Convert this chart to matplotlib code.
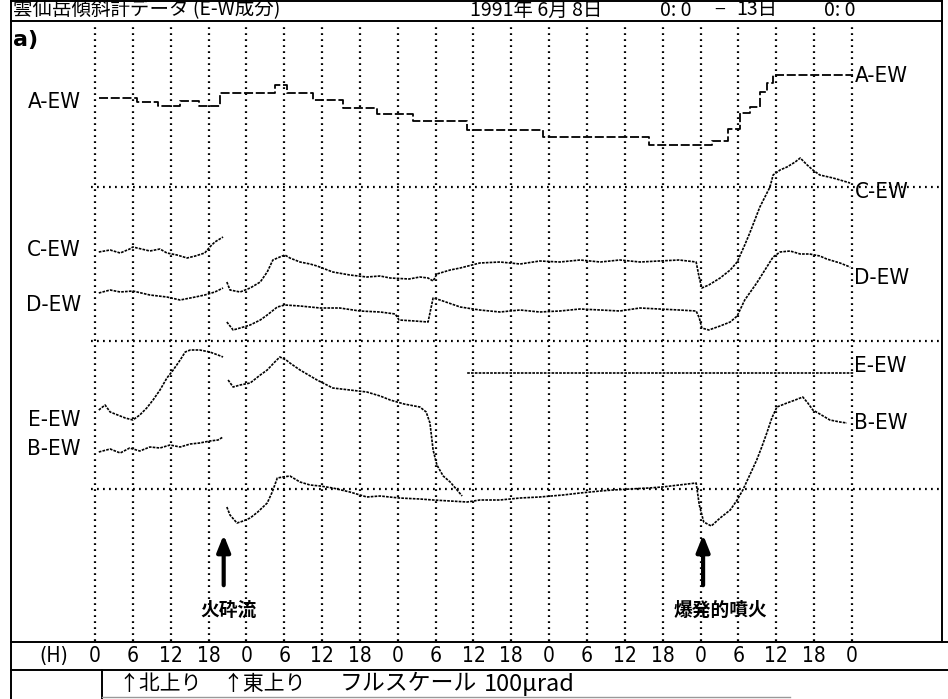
import numpy as np
import matplotlib
matplotlib.use("Agg")
import matplotlib.pyplot as plt
from matplotlib.lines import Line2D

nan = np.nan

# ---- data: hours since 1991-06-08 00:00, tilt in plot units (arbitrary offsets per trace) ----
a_h = [0.6, 6.6, 10.0, 13.5, 16.5, 19.8, 28.5, 30.5, 34.6, 39.3, 44.7, 50.4, 59.0, 71.0,
       87.8, 97.8, 100.4, 102.3, 103.8, 105.4, 106.5, 107.5, 120.2]
a_v = [543, 539, 535, 540, 535, 548, 556, 548, 541, 533, 527, 520, 511, 504,
       496, 500, 512, 528, 534, 549, 558, 566, 566]

c_h = [0.6, 2.4, 4.0, 5.5, 6.0, 8.7, 10.3, 11.4, 13.0, 14.6, 15.9, 17.4, 18.2, 19.0, 20.3, nan,
       20.9, 21.4, 23.0, 24.6, 26.2, 27.3, 28.2, 29.3, 30.1, 30.9, 32.5, 34.1, 35.2, 37.7, 40.4,
       43.1, 45.2, 46.8, 49.8, 51.5, 52.8, 53.6, 54.2, 56.3, 57.9, 61.0, 64.2, 67.4, 70.5, 73.7,
       76.9, 80.1, 83.2, 86.4, 89.4, 92.6, 95.3, 95.8, 96.2, 97.3, 99.1, 100.7, 101.8, 103.0,
       103.8, 104.6, 105.4, 106.2, 107.0, 107.5, 108.6, 109.7, 111.0, 111.8, 112.9, 113.8,
       114.9, 117.0, 118.1, 119.7]
c_v = [389, 391, 388, 392, 394, 390, 392, 388, 386, 383, 385, 388, 394, 399, 404, nan,
       359, 351, 349, 353, 359, 369, 381, 384, 386, 383, 379, 377, 375, 369, 366,
       364, 365, 363, 362, 364, 363, 360, 367, 371, 373, 378, 379, 377, 380, 379,
       381, 379, 381, 379, 380, 381, 379, 363, 353, 356, 363, 371, 379, 396,
       408, 421, 434, 444, 454, 466, 471, 474, 479, 483, 476, 471,
       466, 463, 461, 458]

d_h = [0.6, 2.4, 4.0, 6.0, 8.7, 11.4, 13.5, 15.9, 17.4, 19.0, 20.3, nan,
       20.9, 21.9, 23.0, 24.6, 26.2, 27.3, 28.9, 30.1, 32.5, 35.7, 38.8, 42.0, 45.2, 47.6,
       48.2, 50.7, 52.8, 53.6, 54.7, 57.9, 61.0, 64.2, 67.4, 70.5, 73.7, 76.9, 80.1, 83.2,
       86.4, 89.4, 92.6, 95.3, 95.8, 96.2, 97.3, 99.1, 100.7, 101.8, 103.0, 104.9, 106.2,
       107.5, 108.6, 110.2, 111.8, 113.3, 114.9, 116.0, 118.1, 119.7]
d_v = [348, 351, 349, 350, 346, 344, 341, 344, 346, 349, 353, nan,
       319, 311, 313, 316, 321, 326, 334, 336, 335, 333, 333, 330, 329, 327,
       321, 320, 319, 343, 341, 334, 331, 329, 331, 329, 330, 332, 331, 330,
       333, 332, 331, 330, 323, 313, 311, 315, 319, 325, 341, 358, 371,
       384, 389, 390, 387, 387, 385, 382, 378, 374]

e_h = [0.6, 1.6, 2.4, 3.6, 4.8, 6.0, 7.1, 8.2, 9.2, 10.3, 11.4, 12.4, 13.5, 14.3, 15.1,
       16.6, 18.2, 19.5, 20.3, nan,
       21.1, 21.9, 23.0, 24.6, 26.2, 27.3, 28.5, 29.3, 30.3, 30.9, 32.5, 35.2, 37.7, 40.4,
       43.1, 45.2, 46.8, 49.0, 51.5, 52.5, 53.1, 53.6, 54.2, 55.2, 56.3, 57.4, 58.2, nan,
       59.0, 120.2]
e_v = [231, 236, 229, 226, 223, 221, 226, 233, 241, 251, 263, 271, 281, 289, 291,
       291, 289, 286, 284, nan,
       261, 254, 256, 258, 266, 271, 279, 284, 281, 278, 271, 261, 253, 251,
       249, 245, 241, 237, 234, 229, 218, 191, 176, 165, 159, 151, 145, nan,
       268, 268]

b_h = [0.6, 2.4, 4.0, 5.5, 7.1, 8.7, 10.3, 11.9, 13.5, 15.1, 16.6, 18.2, 19.5, 20.3, nan,
       20.9, 21.4, 22.5, 23.5, 24.6, 25.8, 27.3, 28.1, 28.9, 29.8, 30.9, 32.5, 34.1, 35.7,
       37.7, 40.4, 43.1, 45.2, 48.2, 51.5, 53.6, 56.3, 59.0, 61.0, 64.2, 67.4, 70.5, 74.2,
       76.9, 80.1, 82.1, 84.8, 87.8, 89.9, 92.6, 95.3, 95.8, 96.5, 97.7, 99.1, 100.7, 101.8,
       102.7, 103.8, 104.9, 105.7, 106.5, 107.3, 108.1, 109.7, 111.0, 112.2, 113.0, 113.8,
       114.9, 116.5, 118.1, 119.2]
b_v = [189, 192, 188, 193, 190, 194, 193, 196, 194, 197, 198, 200, 201, 204, nan,
       134, 126, 118, 120, 123, 129, 138, 149, 163, 164, 165, 159, 156, 155,
       153, 149, 144, 145, 143, 142, 141, 140, 139, 141, 141, 143, 144, 146,
       148, 150, 151, 152, 153, 154, 156, 158, 136, 119, 115, 123, 131, 141,
       151, 166, 181, 194, 208, 223, 234, 238, 241, 244, 238, 231,
       227, 221, 219, 218]

left_names = ["A-EW", "C-EW", "D-EW", "E-EW", "B-EW"]
left_v = [539, 391, 336, 221, 192]
right_names = ["A-EW", "C-EW", "D-EW", "E-EW", "B-EW"]
right_v = [565, 449, 363, 275, 218]

tick_hours = list(range(0, 121, 6))
tick_labels = ["0", "6", "12", "18"] * 5 + ["0"]
event_hours = [20.4, 96.4]
event_labels = ["火砕流", "爆発的噴火"]
event_label_h = [21.2, 99.1]
band_v = [454, 300, 152]

W, H = 948, 699
PXH, X0, Y0 = 6.308, 95, 641   # px per hour, px of hour 0, px of plot bottom

JP = ["Noto Sans CJK JP", "DejaVu Sans"]
NARROW = ["DejaVu Sans Condensed", "Liberation Sans Narrow", "DejaVu Sans"]

fig = plt.figure(figsize=(W / 100, H / 100), dpi=100)
ax = fig.add_axes([0, 0, 1, 1])
ax.set_xlim(-X0 / PXH, (W - X0) / PXH)
ax.set_ylim(-(H - Y0), Y0)
ax.axis("off")

# dotted grid
for h in tick_hours:
    ax.plot([h, h], [0, 618], color="black", lw=1.6, ls=(0, (0.8, 1.9)))
for v in band_v:
    ax.plot([-0.6, (942 - X0) / PXH], [v, v], color="black", lw=1.6, ls=(0, (0.8, 1.9)))

# traces (dot-matrix look)
ax.step(a_h, a_v, where="post", color="black", lw=1.3, ls=(0, (5, 1.5)))
for hs, vs in [(c_h, c_v), (d_h, d_v), (e_h, e_v), (b_h, b_v)]:
    ax.plot(hs, vs, color="black", lw=1.2, ls=(0, (1.6, 0.7)))

# trace names
for n, v in zip(left_names, left_v):
    ax.text(-6.5, v, n, ha="center", va="center", fontsize=16, family=NARROW,
            fontstretch="condensed")
for n, v in zip(right_names, right_v):
    ax.text(120.4, v, n, ha="left", va="center", fontsize=16, family=NARROW,
            fontstretch="condensed")

# events
for h, lh, lab in zip(event_hours, event_label_h, event_labels):
    ax.annotate("", xy=(h, 109), xytext=(h, 53),
                arrowprops=dict(arrowstyle="-|>,head_width=0.4,head_length=1.0",
                                lw=3, color="black"))
    ax.text(lh, 31, lab, ha="center", va="center", fontsize=13.5,
            fontweight="bold", family=JP)

# hour axis row
ax.text(-6.5, -15, "(H)", ha="center", va="center", fontsize=15, family=NARROW,
        fontstretch="condensed")
for h, t in zip(tick_hours, tick_labels):
    ax.text(h, -15, t, ha="center", va="center", fontsize=15, family=NARROW,
            fontstretch="condensed")


def fx(px):
    return px / W


def fy(py):
    return 1 - py / H


def fline(x0, y0, x1, y1, **kw):
    kw.setdefault("color", "black")
    kw.setdefault("lw", 1.4)
    fig.add_artist(Line2D([fx(x0), fx(x1)], [fy(y0), fy(y1)], **kw))


# printout frame
fline(11, 0, 11, 699)
fline(942, 0, 942, 642)
fline(11, 1, 942, 1)
fline(11, 21, 942, 21)
fline(11, 642, 948, 642)
fline(11, 670, 948, 670)
fline(102, 670, 102, 699)
fline(102, 697, 790, 697, color="0.6", lw=1.0)

# header
fig.text(fx(13), fy(10), "雲仙岳傾斜計データ (E-W成分)", ha="left", va="center",
         fontsize=14, family=JP)
for px, s in [(470, "1991年 6月 8日"), (660, "0: 0"), (714, "−"), (736, "13日"), (824, "0: 0")]:
    fig.text(fx(px), fy(10), s, ha="left", va="center", fontsize=14, family=JP)
fig.text(fx(13), fy(40), "a)", ha="left", va="center", fontsize=16, fontweight="bold")

# footer
for px, s, fs in [(118, "↑北上り", 15), (222, "↑東上り", 15),
                  (340, "フルスケール", 16.5), (484, "100μrad", 17)]:
    fig.text(fx(px), fy(684), s, ha="left", va="center", fontsize=fs, family=JP)

fig.savefig("out.png", dpi=100, facecolor="white")
